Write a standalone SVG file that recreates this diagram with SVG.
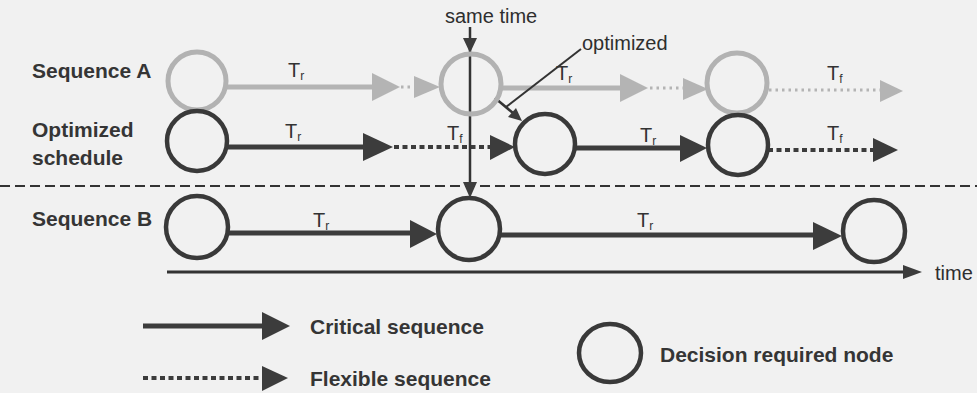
<svg xmlns="http://www.w3.org/2000/svg" width="977" height="393" viewBox="0 0 977 393">
<style>
.bg{fill:#f1f1f1}
.node{fill:none;stroke:#393939;stroke-width:4.5}
.gnode{fill:none;stroke:#b2b2b2;stroke-width:5}
.crit{stroke:#3c3c3c;stroke-width:5;fill:none}
.flex{stroke:#3c3c3c;stroke-width:4;stroke-dasharray:5 3.5;fill:none}
.gcrit{stroke:#b4b4b4;stroke-width:5;fill:none}
.gflex{stroke:#b4b4b4;stroke-width:3;stroke-dasharray:2.5 4;fill:none}
.head{fill:#3c3c3c}
.ghead{fill:#b4b4b4}
.thin{stroke:#333;stroke-width:2.5;fill:none}
.lbl{font-family:"Liberation Sans",Arial,sans-serif;font-size:21px;font-weight:bold;fill:#353535}
.txt{font-family:"Liberation Sans",Arial,sans-serif;font-size:20px;fill:#2e2e2e}
.t{font-family:"Liberation Sans",Arial,sans-serif;font-size:20px;fill:#333}
.sub{font-size:12px}
</style>
<rect class="bg" x="0" y="0" width="977" height="393"/>

<g id="labels">
<text class="lbl" x="32" y="78">Sequence A</text>
<text class="lbl" x="32" y="137">Optimized</text>
<text class="lbl" x="32" y="165">schedule</text>
<text class="lbl" x="32" y="226">Sequence B</text>
<text class="txt" x="445" y="23">same time</text>
<text class="txt" x="582" y="50">optimized</text>
<text class="txt" x="935" y="280">time</text>
</g>

<g id="divider">
<line x1="0" y1="186" x2="977" y2="186" stroke="#333" stroke-width="2" stroke-dasharray="10 5"/>
</g>

<g id="connectors">
<!-- Sequence A -->
<line class="gcrit" x1="227" y1="87" x2="374" y2="87"/>
<polygon class="ghead" points="372,73 400,87 372,101"/>
<line class="gflex" x1="401" y1="87" x2="414" y2="87"/>
<polygon class="ghead" points="414,76 440,87 414,98"/>
<line class="gcrit" x1="501" y1="88" x2="622" y2="88"/>
<polygon class="ghead" points="620,74 648,88 620,102"/>
<line class="gflex" x1="650" y1="88" x2="683" y2="88"/>
<polygon class="ghead" points="683,78 708,89 683,100"/>
<line class="gflex" x1="769" y1="90" x2="880" y2="90"/>
<polygon class="ghead" points="880,80 903,91 880,102"/>
<!-- Optimized schedule -->
<line class="crit" x1="228" y1="147" x2="365" y2="147"/>
<polygon class="head" points="363,133 393,147 363,161"/>
<line class="flex" x1="394" y1="147" x2="490" y2="147"/>
<polygon class="head" points="490,135 515,147 490,160"/>
<line class="crit" x1="575" y1="148" x2="682" y2="148"/>
<polygon class="head" points="680,135 707,148 680,162"/>
<line class="flex" x1="768" y1="150" x2="873" y2="150"/>
<polygon class="head" points="873,138 898,150 873,162"/>
<!-- Sequence B -->
<line class="crit" x1="228" y1="233" x2="412" y2="233"/>
<polygon class="head" points="410,220 437,234 410,248"/>
<line class="crit" x1="500" y1="235" x2="815" y2="235"/>
<polygon class="head" points="813,222 842,236 813,250"/>
<!-- time axis -->
<line x1="167" y1="272" x2="905" y2="272" stroke="#333" stroke-width="3"/>
<polygon class="head" points="903,265 922,272 903,279"/>
<!-- same time -->
<line class="thin" x1="470" y1="27" x2="470" y2="185"/>
<polygon class="head" points="463,38 477,38 470,53"/>
<polygon class="head" points="463,182 477,182 470,198"/>
<!-- optimized -->
<line x1="581" y1="49" x2="506" y2="107" stroke="#333" stroke-width="2"/>
<line x1="495" y1="98" x2="513" y2="113" stroke="#333" stroke-width="2.5"/>
<polygon class="head" points="508,117 516,108 522,121"/>
</g>

<g id="t-labels">
<text class="t" x="288" y="77">T<tspan class="sub" dy="3">r</tspan></text>
<text class="t" x="285" y="138">T<tspan class="sub" dy="3">r</tspan></text>
<text class="t" x="447" y="140">T<tspan class="sub" dy="3">f</tspan></text>
<text class="t" x="556" y="80">T<tspan class="sub" dy="3">r</tspan></text>
<text class="t" x="640" y="142">T<tspan class="sub" dy="3">r</tspan></text>
<text class="t" x="827" y="80">T<tspan class="sub" dy="3">f</tspan></text>
<text class="t" x="827" y="140">T<tspan class="sub" dy="3">f</tspan></text>
<text class="t" x="313" y="227">T<tspan class="sub" dy="3">r</tspan></text>
<text class="t" x="637" y="227">T<tspan class="sub" dy="3">r</tspan></text>
</g>

<g id="nodeA1"><circle class="gnode" cx="197" cy="81" r="29"/></g>
<g id="nodeA2"><circle class="gnode" cx="471" cy="84" r="30"/></g>
<g id="nodeA3"><circle class="gnode" cx="737" cy="83" r="30"/></g>
<g id="nodeO1"><circle class="node" cx="197" cy="141" r="30"/></g>
<g id="nodeO2"><circle class="node" cx="545" cy="144" r="30"/></g>
<g id="nodeO3"><circle class="node" cx="738" cy="145" r="30"/></g>
<g id="nodeB1"><circle class="node" cx="197" cy="227" rx="31" r="31"/></g>
<g id="nodeB2"><circle class="node" cx="469" cy="229" r="31"/></g>
<g id="nodeB3"><circle class="node" cx="874" cy="231" r="31"/></g>

<g id="legend">
<line class="crit" x1="143" y1="326" x2="264" y2="326"/>
<polygon class="head" points="262,312 290,326 262,340"/>
<text class="lbl" x="310" y="334">Critical sequence</text>
<line class="flex" x1="143" y1="378" x2="262" y2="378"/>
<polygon class="head" points="262,366 288,378 262,391"/>
<text class="lbl" x="310" y="386">Flexible sequence</text>
<ellipse class="node" cx="610" cy="353" rx="31" ry="29"/>
<text class="lbl" x="660" y="362">Decision required node</text>
</g>
</svg>
